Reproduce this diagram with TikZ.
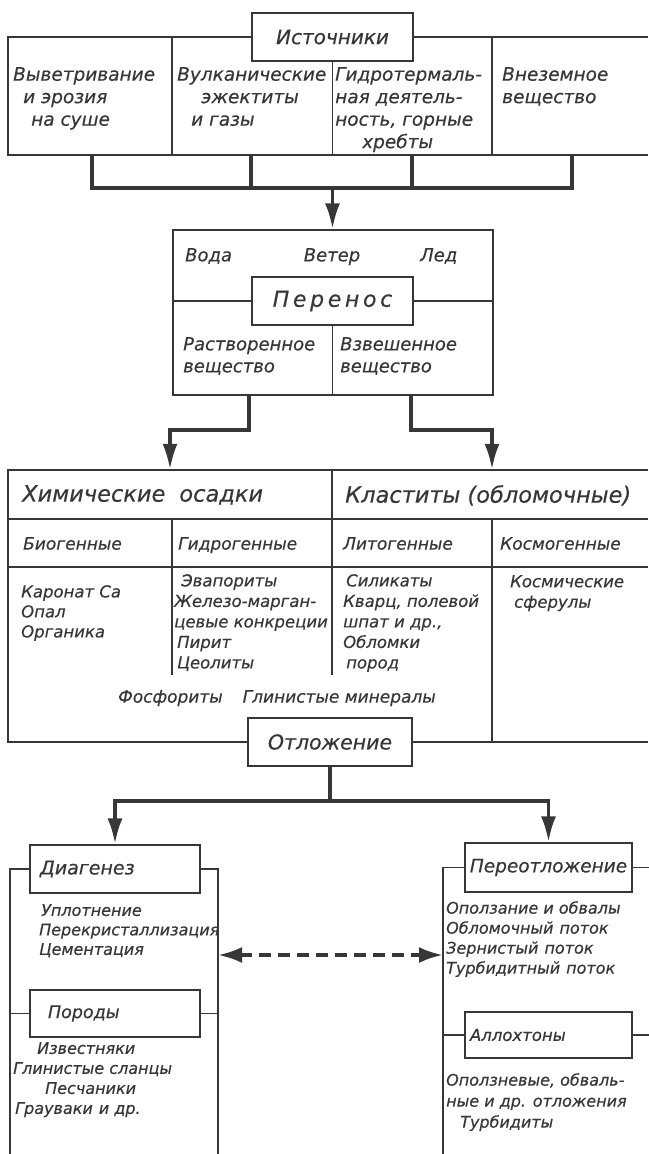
\documentclass[tikz,border=0pt]{standalone}
\usepackage{fontspec}
\setmainfont{DejaVu Sans}[ItalicFeatures={FakeBold=0.4}]
\usepackage{tikz}
\usetikzlibrary{arrows.meta,positioning}
\definecolor{ink}{RGB}{55,55,55}
\newcommand{\fs}[2]{\fontsize{#1}{#2}\selectfont\itshape}

\begin{document}
\begin{tikzpicture}[x=1pt,y=-1pt,color=ink,
  line/.style={draw=ink,line width=1.3pt},
  box/.style={draw=ink,line width=1.3pt,fill=white,inner sep=0pt},
  cell/.style={anchor=north west,align=left,inner sep=0pt},
  flow/.style={draw=ink,line width=3.8pt,-{Latex[length=26pt,width=15pt]}},
  back/.style={draw=ink,line width=3.6pt,dash pattern=on 12pt off 7pt,{Latex[length=24pt,width=16pt]}-{Latex[length=24pt,width=16pt]}}]
\useasboundingbox (0,0) rectangle (648,1154);
\node[box,minimum width=161,minimum height=48,font=\fs{20}{24}] (src) at (332.5,37) {Источники};
\draw[line] (src.west) -- (8,37) -- (8,155) -- (648,155);
\draw[line] (src.east) -- (648,37);
\draw[line] (172,37) -- (172,155) (src.south) -- (332.5,155) (492,37) -- (492,155);
\node[cell,font=\fs{18.5}{22.5}] (s1) at (13,67) {Выветривание\\\hspace*{10pt}и эрозия\\\hspace*{18pt}на суше};
\node[cell,font=\fs{18.5}{22.5}] (s2) at (177,67) {Вулканические\\\hspace*{24pt}эжектиты\\\hspace*{14pt}и газы};
\node[cell,font=\fs{18.5}{22.5}] (s3) at (335,67) {Гидротермаль-\\ная деятель-\\ность, горные\\\hspace*{27pt}хребты};
\node[cell,font=\fs{18.5}{22.5}] (s4) at (502,67) {Внеземное\\вещество};
\coordinate (b1) at (92,155);
\coordinate (b2) at (251,155);
\coordinate (b3) at (412,155);
\coordinate (b4) at (572,155);
\coordinate (hub) at (332.5,188);
\draw[line width=3.8pt,draw=ink] (b1) |- (b4 |- hub) -- (b4) (b2) -- (b2 |- hub) (b3) -- (b3 |- hub);
\node[box,fill=none,minimum width=320,minimum height=165] (move) at (333,312.5) {};
\draw[flow] (hub) -- (hub |- move.north);
\node[box,minimum width=161,minimum height=48,font=\fs{22}{26}] (per) at (332.5,301) {П\,е\,р\,е\,н\,о\,с};
\draw[line] (per.west) -- (per.west -| move.west) (per.east) -- (per.east -| move.east);
\draw[line] (per.south) -- (per.south |- move.south);
\node[cell,font=\fs{18}{22}] (w1) at (185,248) {Вода};
\node[cell,font=\fs{18}{22},anchor=north] (w2) at (332,248) {Ветер};
\node[cell,font=\fs{18}{22}] (w3) at (420,248) {Лед};
\node[cell,font=\fs{18}{22}] (m1) at (183,337) {Растворенное\\вещество};
\node[cell,font=\fs{18}{22}] (m2) at (340,337) {Взвешенное\\вещество};
\node[minimum width=324,minimum height=50,inner sep=0pt] (chem) at (170,495) {};
\node[minimum width=316,minimum height=50,inner sep=0pt] (clast) at (492,495) {};
\coordinate (t1) at (249,395);
\coordinate (t2) at (411,395);
\draw[flow] (t1) -- ++(0,35) -| (chem.north);
\draw[flow] (t2) -- ++(0,35) -| (clast.north);
\node[box,minimum width=164,minimum height=48,font=\fs{20.5}{24}] (otl) at (330,742) {Отложение};
\draw[line] (648,470) -- (8,470) -- (8,742) -- (otl.west) (otl.east) -- (648,742);
\draw[line] (8,519) -- (648,519) (8,567) -- (648,567);
\draw[line] (172,519) -- (172,675) (332,470) -- (332,675) (492,519) -- (492,742);
\node[cell,font=\fs{22.5}{26}] (h1) at (22,485) {Химические\hspace{14pt}осадки};
\node[cell,font=\fs{22.5}{26}] (h2) at (345,485) {Кластиты (обломочные)};
\node[cell,font=\fs{17}{20}] (g1) at (23,537) {Биогенные};
\node[cell,font=\fs{17}{20}] (g2) at (178,537) {Гидрогенные};
\node[cell,font=\fs{17}{20}] (g3) at (343,537) {Литогенные};
\node[cell,font=\fs{17}{20}] (g4) at (500,537) {Космогенные};
\node[cell,font=\fs{16.5}{20}] (c1) at (21,585) {Каронат Са\\Опал\\Органика};
\node[cell,font=\fs{16.5}{20.5}] (c2) at (174,574) {\hspace*{7pt}Эвапориты\\Железо-марган-\\цевые конкреции\\\hspace*{3pt}Пирит\\\hspace*{3pt}Цеолиты};
\node[cell,font=\fs{16.5}{20.5}] (c3) at (343,574) {\hspace*{3pt}Силикаты\\Кварц, полевой\\шпат и др.,\\Обломки\\\hspace*{3pt}пород};
\node[cell,font=\fs{16.5}{20.5}] (c4) at (510,575) {Космические\\\hspace*{4pt}сферулы};
\node[cell,font=\fs{17}{20}] (c5) at (118,690) {Фосфориты\hspace{20pt}Глинистые минералы};
\node[box,minimum width=170,minimum height=48,font=\fs{19}{22},text width=150,align=left] (diag) at (115,869) {Диагенез};
\node[box,minimum width=170,minimum height=47,font=\fs{17.5}{21},text width=150,align=left] (rock) at (115,1013.5) {\hspace*{8pt}Породы};
\node[box,minimum width=167,minimum height=49,font=\fs{18.5}{22}] (redep) at (548.5,867.5) {Переотложение};
\node[box,minimum width=167,minimum height=46,font=\fs{16.5}{21},text width=157,align=left] (allo) at (548.5,1035) {Аллохтоны};
\draw[flow] (otl.south) -- ++(0,34) -| (diag.north);
\draw[flow] (otl.south) -- ++(0,34) -| (redep.north);
\draw[line] (diag.west) -| (10,1160) (diag.east) -| (218,1160);
\draw[line] (rock.west) -- ++(-20,0) (rock.east) -- ++(18,0);
\draw[line] (redep.west) -| (443,1160) (redep.east) -- ++(20,0);
\draw[line] (allo.west) -- ++(-22,0) (allo.east) -- ++(20,0);
\node[cell,font=\fs{16}{19.5}] (d1) at (39,904) {\hspace*{2pt}Уплотнение\\Перекристаллизация\\Цементация};
\node[cell,font=\fs{16}{20}] (d2) at (13,1042) {\hspace*{24pt}Известняки\\Глинистые сланцы\\\hspace*{32pt}Песчаники\\\hspace*{2pt}Грауваки\hspace{6pt}и др.};
\node[cell,font=\fs{16}{20}] (r1) at (446,901) {Оползание и обвалы\\Обломочный\hspace{6pt}поток\\Зернистый\hspace{6pt}поток\\Турбидитный\hspace{6pt}поток};
\node[cell,font=\fs{16}{21}] (r2) at (446,1073) {Оползневые, обваль-\\ные и др. отложения\\\hspace*{14pt}Турбидиты};
\coordinate (dr) at (218,955);
\coordinate (rl) at (443,955);
\draw[back] (dr) -- (rl);
\end{tikzpicture}
\end{document}
